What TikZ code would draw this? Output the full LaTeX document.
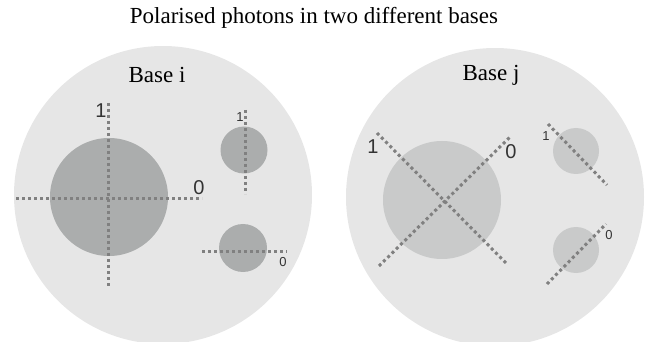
\documentclass[tikz,border=0pt]{standalone}
\usepackage{fontspec}
\setmainfont{Liberation Serif}
\newfontfamily\digitfont{Liberation Sans}
\definecolor{pale}{HTML}{E6E6E6}
\definecolor{darkdisc}{HTML}{ABADAD}
\definecolor{lightdisc}{HTML}{C9CACA}
\definecolor{dots}{HTML}{808080}
\begin{document}
\begin{tikzpicture}[x=1pt, y=-1pt,
  base/.style={circle, fill=pale, inner sep=0pt, minimum size=298pt},
  photon/.style={circle, inner sep=0pt, minimum size=#1},
  axis/.style={draw=dots, line width=3pt, dash pattern=on 3pt off 3pt},
  biglbl/.style={font=\digitfont\fontsize{20}{20}\selectfont, text=black!80, inner sep=0pt},
  smalllbl/.style={font=\digitfont\fontsize{13}{13}\selectfont, text=black!80, inner sep=0pt}
]
\useasboundingbox (0,0) rectangle (646,342);
\node[font=\fontsize{23}{23}\selectfont] (title) at (314,18) {Polarised photons in two different bases};

% base i
\node[base] (basei) at (163,195) {};
\node[font=\fontsize{23}{23}\selectfont] (labeli) at (157,75) {Base i};
\node[photon=118pt, fill=darkdisc] (pi) at (109,197) {};
\node[photon=47pt, fill=darkdisc] (pia) at (244,150) {};
\node[photon=48pt, fill=darkdisc] (pib) at (243,248) {};
\coordinate (iv1) at (108,103);
\coordinate (iv2) at (108,288);
\coordinate (ih1) at (16,199);
\coordinate (ih2) at (202,199);
\coordinate (ia1) at (245,110);
\coordinate (ia2) at (245,194);
\coordinate (ib1) at (202,252);
\coordinate (ib2) at (287,252);
\draw[axis] (iv1) -- (iv2);
\draw[axis] (ih1) -- (ih2);
\draw[axis] (ia1) -- (ia2);
\draw[axis] (ib1) -- (ib2);
\node[biglbl] (ione) at (101,111) {1};
\node[biglbl] (izero) at (199,188) {0};
\node[smalllbl] (ionea) at (240,117) {1};
\node[smalllbl] (izerob) at (283,262) {0};

% base j
\node[base] (basej) at (495,197) {};
\node[font=\fontsize{23}{23}\selectfont] (labelj) at (491,75) {Base j};
\node[photon=118pt, fill=lightdisc] (pj) at (442,200) {};
\node[photon=46pt, fill=lightdisc] (pja) at (576,151) {};
\node[photon=46pt, fill=lightdisc] (pjb) at (576,250) {};
\coordinate (jd1) at (377,133);
\coordinate (jd2) at (507,264);
\coordinate (je1) at (379,266);
\coordinate (je2) at (510,137);
\coordinate (ja1) at (548,124);
\coordinate (ja2) at (607,185);
\coordinate (jb1) at (547,284);
\coordinate (jb2) at (606,224);
\draw[axis] (jd1) -- (jd2);
\draw[axis] (je1) -- (je2);
\draw[axis] (ja1) -- (ja2);
\draw[axis] (jb1) -- (jb2);
\node[biglbl] (jone) at (373,147) {1};
\node[biglbl] (jzero) at (511,152) {0};
\node[smalllbl] (jonea) at (546,136) {1};
\node[smalllbl] (jzerob) at (609,235) {0};
\end{tikzpicture}
\end{document}
